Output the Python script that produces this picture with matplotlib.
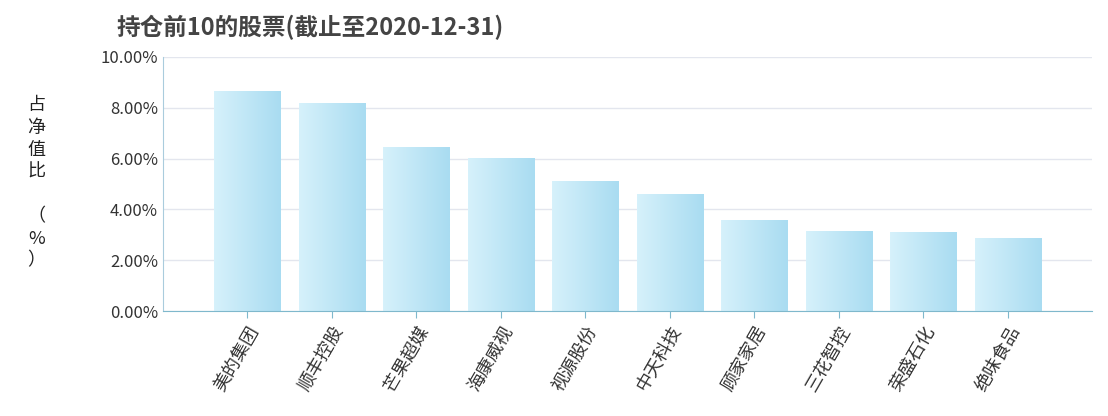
import matplotlib
matplotlib.use("Agg")
import matplotlib.pyplot as plt
import numpy as np
from matplotlib.ticker import FuncFormatter
from matplotlib.colors import LinearSegmentedColormap

plt.rcParams['font.family'] = ['Noto Sans CJK SC', 'DejaVu Sans']

stocks = ['美的集团', '顺丰控股', '芒果超媒', '海康威视', '视源股份',
          '中天科技', '顾家家居', '三花智控', '荣盛石化', '绝味食品']
values = [8.65, 8.18, 6.47, 6.01, 5.13, 4.60, 3.60, 3.17, 3.12, 2.89]

fig = plt.figure(figsize=(11.08, 4.16), dpi=100)
ax = fig.add_axes([0.147, 0.252, 0.839, 0.611])
x = np.arange(len(stocks))
w = 0.79
bars = ax.bar(x, values, width=w, color='none', edgecolor='none', zorder=2)
grad = np.linspace(0, 1, 64).reshape(1, -1)
cmap = LinearSegmentedColormap.from_list('b', ['#d6f1fb', '#a9dcf1'])
for b in bars:
    im = ax.imshow(grad, cmap=cmap, aspect='auto', zorder=2,
                   extent=[b.get_x(), b.get_x() + b.get_width(), 0, b.get_height()])
    im.set_clip_path(b)
ax.set_xlim(-1, 10)
ax.set_ylim(0, 10)
ax.set_yticks(np.arange(0, 10.01, 2))
ax.yaxis.set_major_formatter(FuncFormatter(lambda v, p: f'{v:.2f}%'))
ax.grid(axis='y', color='#e3e6ee', lw=1, zorder=0)
for s in ['top', 'right']:
    ax.spines[s].set_visible(False)
ax.spines['left'].set_color('#aaccdd')
ax.spines['bottom'].set_color('#7fb8cc')
ax.tick_params(axis='y', length=0, labelsize=12, colors='#333333')
ax.set_xticks(x)
ax.set_xticklabels(stocks, rotation=60, ha='right', rotation_mode='anchor',
                   fontsize=13, color='#333333')
ax.tick_params(axis='x', length=5, color='#7fb8cc')
fig.text(0.033, 0.56, '占\n净\n值\n比\n\n（\n%\n）', fontsize=13, ha='center',
         va='center', linespacing=1.3, color='#222222')
fig.text(0.105, 0.935, '持仓前10的股票(截止至2020-12-31)', fontsize=17,
         fontweight='bold', color='#444444', va='center')
fig.savefig('out.png', dpi=100)
